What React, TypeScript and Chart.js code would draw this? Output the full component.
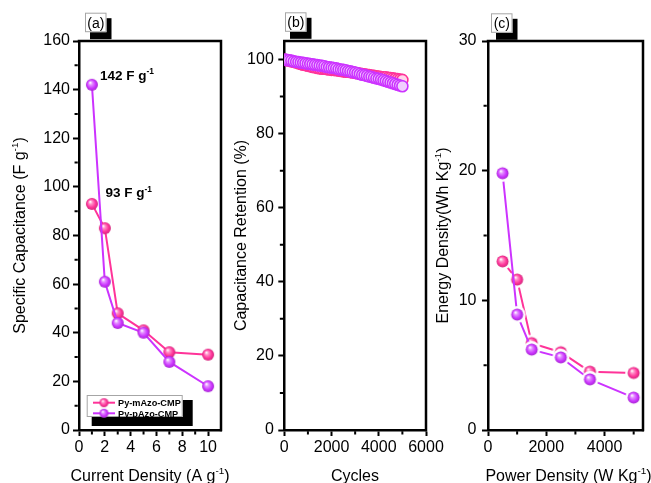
import React, { useEffect, useRef } from 'react';
import { Chart, registerables } from 'chart.js';

Chart.register(...registerables);

const W = 651;
const H = 483;
const FONT = '"Liberation Sans", Arial, Helvetica, sans-serif';
const PINK = '#ff3399';
const PURPLE = '#cc33ff';

// (a) specific capacitance vs current density
const currentDensity = [1, 2, 3, 5, 7, 10];
const capMAzo = [93, 83, 48, 41, 32, 31];
const capPAzo = [142, 61, 44, 40, 28, 18];

// (b) capacitance retention over cycling
const cycles = [
  0, 100, 200, 300, 400, 500, 600, 700, 800, 900,
  1000, 1100, 1200, 1300, 1400, 1500, 1600, 1700, 1800, 1900,
  2000, 2100, 2200, 2300, 2400, 2500, 2600, 2700, 2800, 2900,
  3000, 3100, 3200, 3300, 3400, 3500, 3600, 3700, 3800, 3900,
  4000, 4100, 4200, 4300, 4400, 4500, 4600, 4700, 4800, 4900,
  5000,
];
const retMAzo = [
  100.0, 99.8, 99.7, 99.5, 99.4, 99.2, 99.0, 98.8, 98.6, 98.5,
  98.3, 98.2, 98.0, 97.9, 97.7, 97.6, 97.5, 97.5, 97.4, 97.3,
  97.2, 97.2, 97.1, 97.0, 96.9, 96.8, 96.7, 96.7, 96.6, 96.5,
  96.4, 96.3, 96.2, 96.1, 96.0, 95.9, 95.8, 95.7, 95.6, 95.5,
  95.4, 95.3, 95.2, 95.2, 95.1, 95.0, 94.9, 94.8, 94.7, 94.6,
  94.5,
];
const retPAzo = [
  100.0, 99.9, 99.8, 99.7, 99.5, 99.4, 99.3, 99.2, 99.1, 99.0,
  98.9, 98.8, 98.7, 98.6, 98.5, 98.4, 98.3, 98.2, 98.0, 97.9,
  97.8, 97.7, 97.6, 97.4, 97.3, 97.2, 97.1, 96.9, 96.8, 96.6,
  96.5, 96.3, 96.1, 95.9, 95.8, 95.6, 95.4, 95.3, 95.1, 94.9,
  94.8, 94.6, 94.4, 94.2, 94.0, 93.8, 93.6, 93.4, 93.2, 93.0,
  92.8,
];

// (c) Ragone plot
const powerDensity = [500, 1000, 1500, 2500, 3500, 5000];
const energyMAzo = [13.0, 11.6, 6.7, 6.0, 4.5, 4.4];
const energyPAzo = [19.8, 8.9, 6.2, 5.6, 3.9, 2.5];

// tick values
const aXMajor = [0, 2, 4, 6, 8, 10];
const aXMinor = [1, 3, 5, 7, 9];
const aYMajor = [0, 20, 40, 60, 80, 100, 120, 140, 160];
const aYMinor = [10, 30, 50, 70, 90, 110, 130, 150];
const bXMajor = [0, 2000, 4000, 6000];
const bXMinor = [1000, 3000, 5000];
const bYMajor = [0, 20, 40, 60, 80, 100];
const bYMinor = [10, 30, 50, 70, 90];
const cXMajor = [0, 2000, 4000];
const cXMinor = [1000, 3000, 5000];
const cYMajor = [0, 10, 20, 30];
const cYMinor = [5, 15, 25];

const seriesNames = ['Py-mAzo-CMP', 'Py-pAzo-CMP'];

type Seg = { t: string; sup?: boolean };

function mix(hex: string, target: number, k: number): string {
  const n = parseInt(hex.slice(1), 16);
  const ch = [(n >> 16) & 255, (n >> 8) & 255, n & 255].map((c) => Math.round(c + (target - c) * k));
  return `rgb(${ch[0]},${ch[1]},${ch[2]})`;
}

// glossy ball marker, optionally with a white gap ring around it
function sphere(color: string, r: number, halo = 0): HTMLCanvasElement {
  const size = Math.ceil((r + halo) * 2) + 2;
  const c = document.createElement('canvas');
  c.width = size;
  c.height = size;
  const g = c.getContext('2d')!;
  const cx = size / 2;
  const cy = size / 2;
  if (halo > 0) {
    g.fillStyle = '#ffffff';
    g.beginPath();
    g.arc(cx, cy, r + halo, 0, Math.PI * 2);
    g.fill();
  }
  const grad = g.createRadialGradient(cx - r * 0.3, cy - r * 0.38, r * 0.05, cx, cy, r);
  grad.addColorStop(0, '#ffffff');
  grad.addColorStop(0.28, mix(color, 255, 0.45));
  grad.addColorStop(0.7, color);
  grad.addColorStop(1, mix(color, 0, 0.18));
  g.fillStyle = grad;
  g.beginPath();
  g.arc(cx, cy, r, 0, Math.PI * 2);
  g.fill();
  return c;
}

function drawRich(
  ctx: CanvasRenderingContext2D,
  segs: Seg[],
  x: number,
  y: number,
  size: number,
  opts: { weight?: string; align?: 'left' | 'center'; rotate?: boolean } = {}
) {
  const weight = opts.weight || 'normal';
  ctx.save();
  ctx.translate(x, y);
  if (opts.rotate) ctx.rotate(-Math.PI / 2);
  ctx.textBaseline = 'alphabetic';
  ctx.textAlign = 'left';
  ctx.fillStyle = '#000';
  let total = 0;
  for (const s of segs) {
    ctx.font = `${weight} ${s.sup ? size * 0.62 : size}px ${FONT}`;
    total += ctx.measureText(s.t).width;
  }
  let cx = opts.align === 'center' ? -total / 2 : 0;
  for (const s of segs) {
    ctx.font = `${weight} ${s.sup ? size * 0.62 : size}px ${FONT}`;
    ctx.fillText(s.t, cx, s.sup ? -size * 0.42 : 0);
    cx += ctx.measureText(s.t).width;
  }
  ctx.restore();
}

function panelTag(ctx: CanvasRenderingContext2D, text: string, x: number, y: number) {
  ctx.save();
  ctx.fillStyle = '#000';
  ctx.fillRect(x + 5, y + 5.5, 21.5, 21);
  ctx.fillStyle = '#fff';
  ctx.fillRect(x, y, 21.5, 19.5);
  ctx.strokeStyle = '#a6a6a6';
  ctx.lineWidth = 1;
  ctx.strokeRect(x + 0.5, y + 0.5, 20.5, 18.5);
  ctx.fillStyle = '#000';
  ctx.font = `14px ${FONT}`;
  ctx.textAlign = 'center';
  ctx.textBaseline = 'alphabetic';
  ctx.fillText(text, x + 10.8, y + 15);
  ctx.restore();
}

interface AxisSpec {
  min: number;
  max: number;
  major: number[];
  minor: number[];
  pad: number;
}

interface PanelSpec {
  key: string;
  area: { left: number; right: number; top: number; bottom: number };
  x: AxisSpec;
  y: AxisSpec;
  datasets: () => any[];
  decorate: (ctx: CanvasRenderingContext2D, chart: Chart) => void;
}

const pts = (xs: number[], ys: number[]) => xs.map((x, i) => ({ x, y: ys[i] }));

const lineSet = (label: string, xs: number[], ys: number[], color: string, marker: HTMLCanvasElement, order: number) => ({
  label,
  data: pts(xs, ys),
  showLine: true,
  borderColor: color,
  borderWidth: 2,
  pointStyle: marker,
  pointRadius: 6,
  order,
});

const PANELS: PanelSpec[] = [
  {
    key: 'a',
    area: { left: 79, right: 221, top: 41, bottom: 430 },
    x: { min: 0, max: 11, major: aXMajor, minor: aXMinor, pad: 2 },
    y: { min: 0, max: 160, major: aYMajor, minor: aYMinor, pad: 3 },
    datasets: () => [
      lineSet(seriesNames[0], currentDensity, capMAzo, PINK, sphere(PINK, 6), 1),
      lineSet(seriesNames[1], currentDensity, capPAzo, PURPLE, sphere(PURPLE, 6), 0),
    ],
    decorate: (ctx, chart) => {
      const xs = chart.scales.x;
      const ys = chart.scales.y;
      panelTag(ctx, '(a)', 85, 12.7);
      drawRich(ctx, [{ t: 'Specific Capacitance (F g' }, { t: '-1', sup: true }, { t: ')' }], 25, 235.5, 16, {
        align: 'center',
        rotate: true,
      });
      drawRich(ctx, [{ t: 'Current Density (A g' }, { t: '-1', sup: true }, { t: ')' }], 150, 481, 16, {
        align: 'center',
      });
      // value call-outs next to the first points
      drawRich(
        ctx,
        [{ t: `${capPAzo[0]} F g` }, { t: '-1', sup: true }],
        xs.getPixelForValue(currentDensity[0]) + 8,
        ys.getPixelForValue(capPAzo[0]) - 5,
        13.5,
        { weight: 'bold' }
      );
      drawRich(
        ctx,
        [{ t: `${capMAzo[0]} F g` }, { t: '-1', sup: true }],
        xs.getPixelForValue(currentDensity[0]) + 13.5,
        ys.getPixelForValue(capMAzo[0]) - 6.5,
        13.5,
        { weight: 'bold' }
      );
      // legend
      ctx.save();
      ctx.fillStyle = '#000';
      ctx.fillRect(91.7, 400, 101, 26);
      ctx.fillStyle = '#fff';
      ctx.fillRect(86.7, 395, 96, 22);
      ctx.strokeStyle = '#a6a6a6';
      ctx.lineWidth = 1;
      ctx.strokeRect(87.2, 395.5, 95, 21);
      const items = [
        { name: seriesNames[0], color: PINK, y: 402.7 },
        { name: seriesNames[1], color: PURPLE, y: 413.3 },
      ];
      for (const it of items) {
        ctx.strokeStyle = it.color;
        ctx.lineWidth = 2;
        ctx.beginPath();
        ctx.moveTo(93, it.y);
        ctx.lineTo(115, it.y);
        ctx.stroke();
        const s = sphere(it.color, 4.5);
        ctx.drawImage(s, 104 - s.width / 2, it.y - s.height / 2);
        ctx.fillStyle = '#000';
        ctx.font = `bold 9.2px ${FONT}`;
        ctx.textAlign = 'left';
        ctx.textBaseline = 'alphabetic';
        ctx.fillText(it.name, 118, it.y + 3.5);
      }
      ctx.restore();
    },
  },
  {
    key: 'b',
    area: { left: 284.3, right: 426, top: 41, bottom: 430 },
    x: { min: 0, max: 6000, major: bXMajor, minor: bXMinor, pad: 2 },
    y: { min: 0, max: 105, major: bYMajor, minor: bYMinor, pad: 4.5 },
    datasets: () => [
      {
        label: seriesNames[0],
        data: pts(cycles, retMAzo),
        showLine: false,
        pointStyle: 'circle',
        pointRadius: 5.5,
        borderWidth: 1.6,
        borderColor: PINK,
        backgroundColor: '#ffd6ea',
        order: 1,
      },
      {
        label: seriesNames[1],
        data: pts(cycles, retPAzo),
        showLine: false,
        pointStyle: 'circle',
        pointRadius: 5.5,
        borderWidth: 1.6,
        borderColor: PURPLE,
        backgroundColor: '#f1cfff',
        order: 0,
      },
    ],
    decorate: (ctx) => {
      panelTag(ctx, '(b)', 285, 12.3);
      drawRich(ctx, [{ t: 'Capacitance Retention (%)' }], 246, 235.5, 16, { align: 'center', rotate: true });
      drawRich(ctx, [{ t: 'Cycles' }], 355, 481, 16, { align: 'center' });
    },
  },
  {
    key: 'c',
    area: { left: 488, right: 649, top: 41, bottom: 430 },
    x: { min: 0, max: 5320, major: cXMajor, minor: cXMinor, pad: 2 },
    y: { min: 0, max: 30, major: cYMajor, minor: cYMinor, pad: 5.5 },
    datasets: () => [
      lineSet(seriesNames[0], powerDensity, energyMAzo, PINK, sphere(PINK, 6, 2.5), 1),
      lineSet(seriesNames[1], powerDensity, energyPAzo, PURPLE, sphere(PURPLE, 6, 2.5), 0),
    ],
    decorate: (ctx) => {
      panelTag(ctx, '(c)', 491, 13.3);
      drawRich(ctx, [{ t: 'Energy Density(Wh Kg' }, { t: '-1', sup: true }, { t: ')' }], 448, 235.5, 16, {
        align: 'center',
        rotate: true,
      });
      drawRich(ctx, [{ t: 'Power Density (W Kg' }, { t: '-1', sup: true }, { t: ')' }], 568.5, 481, 16, {
        align: 'center',
      });
    },
  },
];

const AXIS_W = 2.5;
const MAJOR_LEN = 6;
const MINOR_LEN = 3.2;

function axisOptions(spec: AxisSpec, horizontal: boolean, room: number) {
  return {
    type: 'linear' as const,
    min: spec.min,
    max: spec.max,
    afterBuildTicks: (scale: any) => {
      scale.ticks = spec.major.map((v) => ({ value: v }));
    },
    // the scale box takes the whole margin so that its labels are not clipped
    afterFit: (scale: any) => {
      if (horizontal) scale.height = room;
      else scale.width = room;
    },
    grid: {
      drawOnChartArea: false,
      drawTicks: true,
      tickLength: MAJOR_LEN,
      tickWidth: 2,
      tickColor: '#000',
    },
    border: { display: true, color: '#000', width: AXIS_W },
    ticks: {
      color: '#000',
      font: { family: FONT, size: 16 },
      padding: spec.pad,
      maxRotation: 0,
      autoSkip: false,
      callback: (v: any) => String(v),
    },
  };
}

function buildConfig(p: PanelSpec): any {
  const frame = {
    id: `frame-${p.key}`,
    afterDraw(chart: Chart) {
      const ctx = chart.ctx;
      const a = chart.chartArea;
      const xs = chart.scales.x;
      const ys = chart.scales.y;
      ctx.save();
      ctx.strokeStyle = '#000';
      ctx.lineWidth = AXIS_W;
      ctx.beginPath();
      ctx.moveTo(a.left - AXIS_W / 2, a.top);
      ctx.lineTo(a.right, a.top);
      ctx.lineTo(a.right, a.bottom + AXIS_W / 2);
      ctx.stroke();
      // minor ticks
      ctx.lineWidth = 2;
      ctx.beginPath();
      for (const v of p.x.minor) {
        const px = xs.getPixelForValue(v);
        ctx.moveTo(px, a.bottom + AXIS_W / 2);
        ctx.lineTo(px, a.bottom + AXIS_W / 2 + MINOR_LEN);
      }
      for (const v of p.y.minor) {
        const py = ys.getPixelForValue(v);
        ctx.moveTo(a.left - AXIS_W / 2, py);
        ctx.lineTo(a.left - AXIS_W / 2 - MINOR_LEN, py);
      }
      ctx.stroke();
      ctx.restore();
      p.decorate(ctx, chart);
    },
  };
  return {
    type: 'scatter',
    data: { datasets: p.datasets() },
    options: {
      responsive: false,
      maintainAspectRatio: false,
      animation: false,
      devicePixelRatio: 1,
      events: [],
      layout: {
        padding: {
          left: 0,
          right: W - p.area.right,
          top: p.area.top,
          bottom: 0,
        },
      },
      plugins: { legend: { display: false }, tooltip: { enabled: false } },
      scales: {
        x: axisOptions(p.x, true, H - p.area.bottom),
        y: axisOptions(p.y, false, p.area.left),
      },
    },
    plugins: [frame],
  };
}

export default function App() {
  const refA = useRef<HTMLCanvasElement>(null);
  const refB = useRef<HTMLCanvasElement>(null);
  const refC = useRef<HTMLCanvasElement>(null);
  const refs = [refA, refB, refC];

  useEffect(() => {
    const charts = PANELS.map((p, i) => new Chart(refs[i].current as HTMLCanvasElement, buildConfig(p)));
    return () => charts.forEach((c) => c.destroy());
  }, []);

  return (
    <div style={{ position: 'fixed', left: 0, top: 0, width: W, height: H, background: '#fff', overflow: 'hidden' }}>
      {PANELS.map((p, i) => (
        <canvas
          key={p.key}
          ref={refs[i]}
          width={W}
          height={H}
          style={{ position: 'absolute', left: 0, top: 0, width: W, height: H }}
        />
      ))}
    </div>
  );
}
